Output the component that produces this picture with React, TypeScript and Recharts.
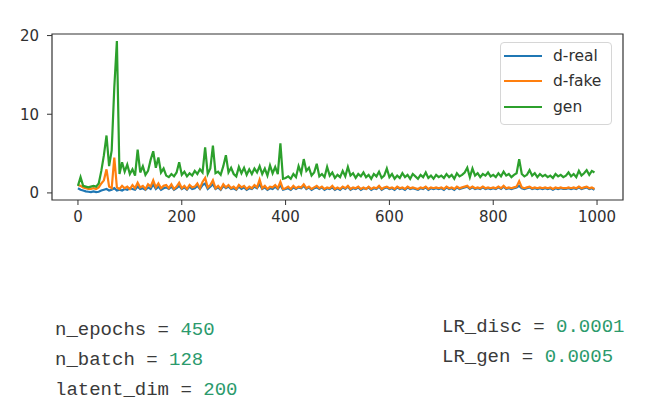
import { Line, LineChart, ReferenceArea, XAxis, YAxis } from "recharts";

// losses sampled every 5 epochs
const step = 5;

const dReal = [
  0.6, 0.4, 0.3, 0.2, 0.15, 0.1, 0.2, 0.1, 0.15, 0.3,
  0.4, 0.5, 0.3, 0.4, 0.6, 0.3, 0.4, 0.3, 0.5, 0.4,
  0.6, 0.5, 0.4, 0.8, 0.5, 0.6, 0.4, 0.7, 0.5, 1.1,
  0.5, 0.8, 0.4, 0.6, 0.7, 0.5, 0.8, 0.4, 0.6, 0.9,
  0.5, 0.7, 0.4, 0.8, 0.5, 0.6, 0.9, 0.5, 1.0, 1.2,
  0.5, 0.8, 1.1, 0.5, 0.7, 0.4, 0.9, 0.6, 0.8, 0.5,
  0.6, 0.4, 0.8, 0.5, 0.7, 0.4, 0.6, 0.5, 0.8, 0.6,
  1.1, 0.5, 0.7, 0.4, 0.6, 0.5, 0.8, 0.5, 1.0, 0.4,
  0.5, 0.6, 0.4, 0.7, 0.5, 0.7, 0.6, 0.9, 0.5, 0.7,
  0.4, 0.6, 0.7, 0.5, 0.7, 0.4, 0.6, 0.5, 0.7, 0.4,
  0.6, 0.4, 0.7, 0.5, 0.8, 0.4, 0.6, 0.5, 0.7, 0.4,
  0.6, 0.5, 0.7, 0.4, 0.6, 0.5, 0.8, 0.4, 0.6, 0.7,
  0.5, 0.6, 0.4, 0.7, 0.5, 0.6, 0.4, 0.7, 0.5, 0.6,
  0.5, 0.4, 0.6, 0.5, 0.7, 0.4, 0.6, 0.5, 0.6, 0.5,
  0.6, 0.4, 0.7, 0.5, 0.6, 0.4, 0.7, 0.5, 0.6, 0.7,
  0.8, 0.5, 0.7, 0.5, 0.6, 0.5, 0.7, 0.5, 0.6, 0.5,
  0.6, 0.5, 0.7, 0.5, 0.8, 0.5, 0.6, 0.5, 0.6, 0.7,
  0.9, 0.6, 0.5, 0.6, 0.7, 0.5, 0.6, 0.5, 0.6, 0.5,
  0.6, 0.5, 0.6, 0.4, 0.6, 0.5, 0.6, 0.5, 0.5, 0.6,
  0.5, 0.6, 0.5, 0.7, 0.5, 0.6, 0.7, 0.5, 0.6, 0.4,
];

const dFake = [
  1.0, 0.9, 0.7, 0.6, 0.5, 0.5, 0.6, 0.5, 0.7, 1.2,
  1.6, 3.0, 0.8, 0.6, 4.5, 0.7, 0.5, 0.9, 0.6, 0.8,
  0.5, 1.0, 0.6, 1.3, 0.7, 0.9, 0.5, 1.1, 0.8, 1.6,
  0.7, 1.2, 0.6, 0.9, 1.0, 0.6, 1.1, 0.5, 0.8, 1.3,
  0.6, 0.9, 0.5, 1.0, 0.7, 0.8, 1.2, 0.6, 1.4, 1.9,
  0.7, 1.0, 1.6, 0.6, 0.9, 0.5, 1.1, 0.7, 1.0, 0.6,
  0.8, 0.5, 1.0, 0.7, 0.9, 0.5, 0.8, 0.6, 1.0, 0.7,
  1.7, 0.6, 0.9, 0.5, 0.8, 0.7, 1.0, 0.6, 1.4, 0.5,
  0.6, 0.8, 0.5, 0.9, 0.6, 0.8, 0.7, 1.1, 0.6, 0.8,
  0.5, 0.7, 0.9, 0.6, 0.8, 0.5, 0.7, 0.6, 0.9, 0.5,
  0.7, 0.5, 0.8, 0.6, 0.9, 0.5, 0.7, 0.6, 0.8, 0.5,
  0.7, 0.5, 0.8, 0.5, 0.7, 0.6, 0.9, 0.5, 0.7, 0.8,
  0.6, 0.7, 0.5, 0.8, 0.6, 0.7, 0.5, 0.8, 0.6, 0.7,
  0.6, 0.5, 0.7, 0.6, 0.8, 0.5, 0.7, 0.6, 0.7, 0.6,
  0.7, 0.5, 0.8, 0.6, 0.7, 0.5, 0.8, 0.6, 0.7, 0.8,
  0.9, 0.6, 0.8, 0.6, 0.7, 0.6, 0.8, 0.6, 0.7, 0.6,
  0.7, 0.6, 0.8, 0.6, 0.9, 0.6, 0.7, 0.6, 0.7, 0.8,
  1.5, 0.7, 0.6, 0.7, 0.8, 0.6, 0.7, 0.6, 0.7, 0.6,
  0.7, 0.6, 0.7, 0.5, 0.7, 0.6, 0.7, 0.6, 0.6, 0.7,
  0.6, 0.7, 0.6, 0.8, 0.6, 0.7, 0.8, 0.6, 0.7, 0.5,
];

const gen = [
  0.9, 2.0, 0.9, 0.8, 0.7, 0.8, 0.9, 0.8, 1.2, 2.8,
  4.8, 7.3, 3.4, 5.4, 13.4, 19.3, 2.4, 3.9, 2.7, 3.6,
  2.4, 3.0, 2.2, 5.5, 2.6, 3.4, 2.3, 2.8, 4.2, 5.3,
  3.2, 4.5, 2.6, 3.1, 2.2, 2.0, 2.4, 2.1, 2.6, 3.9,
  2.3, 2.7, 2.1, 2.5, 2.2, 2.8, 2.4, 3.0, 2.6, 5.8,
  2.4, 3.1, 6.0, 2.5, 2.7, 2.3, 3.4, 4.8, 2.6, 3.2,
  2.4, 2.1, 3.3, 2.5, 3.2, 2.3, 3.0, 2.4, 3.1, 2.6,
  3.4, 2.4, 3.1, 2.2, 3.5, 2.5, 3.3, 2.4, 6.3, 1.8,
  1.9, 2.1, 1.8, 2.4, 2.0, 3.4, 2.5, 4.3, 2.8, 3.2,
  2.2, 2.6, 3.7, 2.1, 2.4, 2.0, 3.3, 2.2, 2.6, 1.9,
  2.3, 2.0, 2.8, 2.1, 3.3, 2.2, 2.5, 1.9, 2.4, 2.1,
  2.6, 2.0, 2.3, 1.8, 2.4, 2.1, 2.7, 1.9, 2.2, 3.1,
  2.0, 2.4, 1.8, 2.2, 1.9, 2.5, 2.0, 2.3, 1.8, 2.4,
  2.1, 1.8, 2.3, 2.0, 2.6, 1.9, 2.2, 1.8, 2.3, 2.0,
  2.2, 1.9, 2.4, 2.0, 2.3, 1.8, 2.5, 2.1, 2.3, 2.6,
  3.2, 2.0, 3.1, 2.2, 2.5, 2.0, 2.4, 2.2, 2.6, 2.1,
  2.3, 2.0, 2.5, 2.1, 2.7, 2.2, 2.4, 2.0, 2.3, 2.5,
  4.3, 2.4, 2.1, 2.3, 2.9, 2.2, 2.5, 2.0, 2.4, 2.1,
  2.3, 2.0, 2.2, 1.9, 2.4, 2.1, 2.3, 2.0, 2.2, 2.6,
  2.1, 2.4, 2.0, 2.8, 2.2, 2.5, 2.9, 2.3, 2.8, 2.6,
];

const xTicks = [0, 200, 400, 600, 800, 1000];
const yTicks = [0, 10, 20];

const series = [
  { key: "d-real", color: "#1f77b4" },
  { key: "d-fake", color: "#ff7f0e" },
  { key: "gen", color: "#2ca02c" },
];

const params = [
  { name: "n_epochs", value: "450" },
  { name: "n_batch", value: "128" },
  { name: "latent_dim", value: "200" },
];
const lrParams = [
  { name: "LR_disc", value: "0.0001" },
  { name: "LR_gen", value: "0.0005" },
];

const data = gen.map((g, i) => ({ epoch: i * step, "d-real": dReal[i], "d-fake": dFake[i], gen: g }));

const tickStyle = { fill: "#303030", fontSize: 15, fontFamily: "DejaVu Sans" };

export default function App() {
  return (
    <div style={{ position: "absolute", left: 0, top: 0, width: 649, height: 416, background: "#fff" }}>
      <LineChart width={649} height={230} data={data} margin={{ top: 34, right: 26, left: 12, bottom: 0 }}>
        <XAxis
          dataKey="epoch"
          type="number"
          domain={[-50, 1050]}
          ticks={xTicks}
          axisLine={false}
          tickLine={{ stroke: "#333" }}
          tickSize={5}
          tickMargin={6}
          height={30}
          tick={tickStyle}
        />
        <YAxis
          type="number"
          domain={[-0.9, 20.2]}
          ticks={yTicks}
          axisLine={false}
          tickLine={{ stroke: "#333" }}
          tickSize={5}
          tickMargin={8}
          width={40}
          tick={tickStyle}
        />
        <ReferenceArea x1={-50} x2={1050} y1={-0.9} y2={20.2} fill="none" stroke="#333" strokeWidth={1.2} />
        {series.map((s) => (
          <Line key={s.key} dataKey={s.key} stroke={s.color} strokeWidth={2.2} dot={false} type="linear" isAnimationActive={false} />
        ))}
      </LineChart>
      <div
        style={{
          position: "absolute",
          left: 500,
          top: 42,
          border: "1px solid #d6d6d6",
          borderRadius: 4,
          background: "rgba(255,255,255,0.85)",
          padding: "0 10px 4px 3px",
          fontFamily: "DejaVu Sans",
          fontSize: 15.5,
          color: "#303030",
        }}
      >
        {series.map((s) => (
          <div key={s.key} style={{ display: "flex", alignItems: "center", height: 25.5 }}>
            <span style={{ display: "inline-block", width: 38, height: 2, background: s.color, marginRight: 11 }} />
            <span>{s.key}</span>
          </div>
        ))}
      </div>
      <svg width={649} height={186} style={{ position: "absolute", left: 0, top: 230 }}>
        {params.map((p, i) => (
          <text key={p.name} x={55} y={105 + i * 30} fontFamily="Liberation Mono" fontSize={19} fill="#3a3a3a" style={{ whiteSpace: "pre" }}>
            {p.name + " = "}
            <tspan fill="#2b9a6c">{p.value}</tspan>
          </text>
        ))}
        {lrParams.map((p, i) => (
          <text key={p.name} x={442} y={102 + i * 30} fontFamily="Liberation Mono" fontSize={19} fill="#3a3a3a" style={{ whiteSpace: "pre" }}>
            {p.name + " = "}
            <tspan fill="#2b9a6c">{p.value}</tspan>
          </text>
        ))}
      </svg>
    </div>
  );
}
